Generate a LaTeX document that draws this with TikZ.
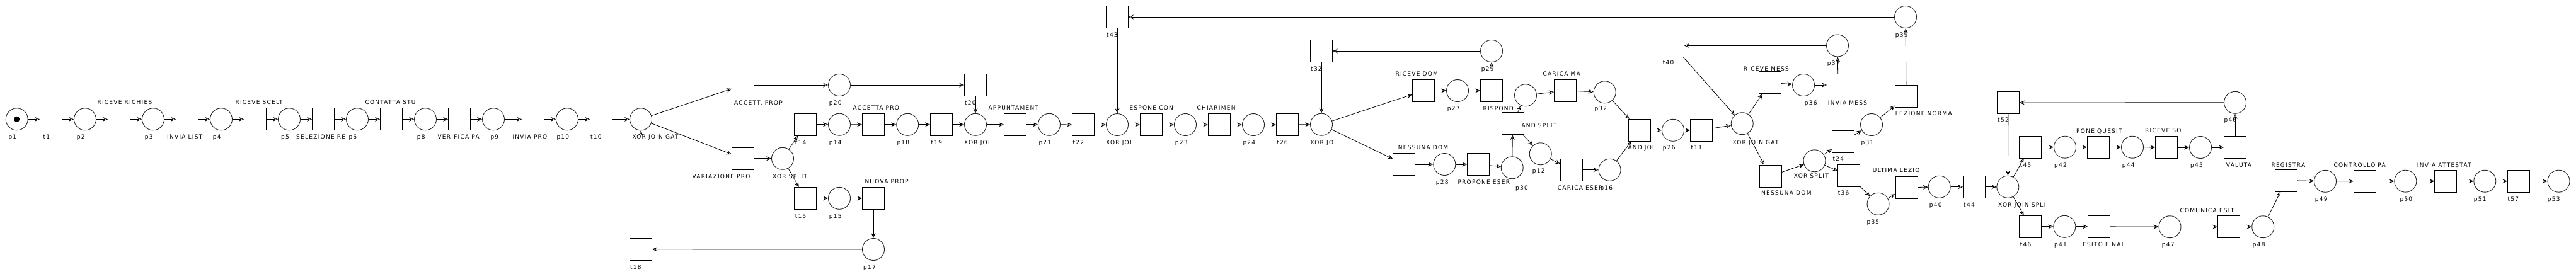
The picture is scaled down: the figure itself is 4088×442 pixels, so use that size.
\documentclass[tikz,border=0pt]{standalone}
\usepackage{fontspec}
\usetikzlibrary{arrows.meta}
\newfontfamily\lbfont{DejaVu Sans}[LetterSpace=14]
\tikzset{
  pl/.style={circle, draw=black!85, minimum size=35pt, inner sep=0pt, line width=0.9pt},
  tr/.style={rectangle, draw=black, minimum size=35pt, inner sep=0pt, line width=0.9pt},
  lb/.style={anchor=base west, inner sep=0pt, font={\lbfont\fontsize{9pt}{10pt}\selectfont}},
  arr/.style={line width=0.8pt, -{Stealth[open, length=8pt, width=7pt, inset=3pt]}},
  tok/.style={circle, fill=black, minimum size=9pt, inner sep=0pt}
}
\newcommand\mkplace[6]{\node[pl] (#1) at (#2,#3) {}; \node[lb] (L#1) at (#5,#6) {#4};}
\newcommand\mktrans[6]{\node[tr] (#1) at (#2,#3) {}; \node[lb] (L#1) at (#5,#6) {#4};}
\begin{document}
\begin{tikzpicture}[x=1pt,y=-1pt]
\fill[white] (0,0) rectangle (4088,442);
\useasboundingbox (0,0) rectangle (4088,442);
% row 1
\mkplace{p1}{26.7}{189.3}{p1}{13.3}{220.6}
\node[tok] (tok1) at (p1.center) {};
\mktrans{t1}{81}{189.3}{t1}{68.3}{220.6}
\mkplace{p2}{135}{189.3}{p2}{121.7}{220.6}
\mktrans{t2}{189}{189.3}{RICEVE RICHIES}{154.3}{165.9}
\mkplace{p3}{243}{189.3}{p3}{229.7}{220.6}
\mktrans{t3}{297}{189.3}{INVIA LIST}{265}{220.6}
\mkplace{p4}{351}{189.3}{p4}{337.7}{220.6}
\mktrans{t4}{405}{189.3}{RICEVE SCELT}{373.3}{165.9}
\mkplace{p5}{459}{189.3}{p5}{446}{220.6}
\mktrans{t5}{513}{189.3}{SELEZIONE RE}{470}{220.6}
\mkplace{p6}{567}{189.3}{p6}{553.3}{220.6}
\mktrans{t6}{621}{189.3}{CONTATTA STU}{579.3}{165.9}
\mkplace{p8}{675}{189.3}{p8}{661.7}{220.6}
\mktrans{t7}{729}{189.3}{VERIFICA PA}{694.3}{220.6}
\mkplace{p9}{783}{189.3}{p9}{778.3}{220.6}
\mktrans{t8}{846}{189.3}{INVIA PRO}{813.3}{220.6}
\mkplace{p10}{900}{189.3}{p10}{883.3}{220.6}
\mktrans{t10}{954}{189.3}{t10}{937}{220.6}
\mkplace{xj1}{1017}{189.3}{XOR JOIN GAT}{1003.3}{220.6}
\mktrans{t18}{1017}{395.8}{t18}{1000}{427.1}
% first split
\mktrans{accP}{1179}{135}{ACCETT. PROP}{1165}{166.3}
\mkplace{p20}{1332}{135}{p20}{1315.7}{166.3}
\mktrans{varP}{1179}{251.8}{VARIAZIONE PRO}{1098.3}{283.1}
\mkplace{xs1}{1242}{251.8}{XOR SPLIT}{1226}{283.1}
\mktrans{t14}{1278}{197.7}{t14}{1261.7}{229}
\mkplace{p14}{1332}{197.7}{p14}{1315.7}{229}
\mktrans{t15}{1278}{314.8}{t15}{1261.7}{346.1}
\mkplace{p15}{1332}{314.8}{p15}{1315.7}{346.1}
\mktrans{accettaP}{1386}{197.8}{ACCETTA PRO}{1353.3}{174.4}
\mkplace{p18}{1440.2}{197.8}{p18}{1423.3}{229}
\mktrans{t19}{1494}{197.8}{t19}{1477.3}{229}
\mkplace{xjoi1}{1548}{197.8}{XOR JOI}{1530}{229}
\mktrans{t20}{1548}{135}{t20}{1531}{166.3}
\mktrans{appunt}{1611}{197.8}{APPUNTAMENT}{1568.3}{174.4}
\mkplace{p21}{1665}{197.8}{p21}{1648.3}{229}
\mktrans{t22}{1719}{198}{t22}{1702.3}{229.3}
\mktrans{nuova}{1386}{314.8}{NUOVA PROP}{1372.3}{291.4}
\mkplace{p17}{1386}{396}{p17}{1370}{427.3}
% middle
\mktrans{t43}{1773}{27}{t43}{1756}{58.3}
\mkplace{xjoi2}{1773}{198}{XOR JOI}{1755}{229.3}
\mktrans{espone}{1827}{198}{ESPONE CON}{1792.3}{174.6}
\mkplace{p23}{1881}{198}{p23}{1864.7}{229.3}
\mktrans{chiar}{1935}{198}{CHIARIMEN}{1899.3}{174.6}
\mkplace{p24}{1989}{198}{p24}{1972.3}{229.3}
\mktrans{t26}{2043}{198}{t26}{2026}{229.3}
\mkplace{xjoi3}{2097}{197.7}{XOR JOI}{2079.3}{229.3}
\mktrans{t32}{2097}{81}{t32}{2080}{112.3}
\mkplace{p29}{2367}{81}{p29}{2350.7}{112.3}
\mktrans{riceveDom}{2259}{144}{RICEVE DOM}{2214.3}{120.6}
\mkplace{p27}{2313}{144}{p27}{2296.7}{175.3}
\mktrans{rispond}{2367}{144}{RISPOND}{2353.3}{175.3}
\mktrans{nessuna1}{2228.3}{261}{NESSUNA DOM}{2218.7}{237.6}
\mkplace{p28}{2292.3}{261}{p28}{2278.7}{292.3}
\mktrans{propone}{2346.3}{261}{PROPONE ESER}{2313.3}{292.3}
\mkplace{p30}{2399.7}{266.3}{p30}{2405}{301}
\mktrans{andsplit}{2400.5}{196.3}{AND SPLIT}{2414.3}{202.3}
\node[pl] (pA) at (2421,151.3) {};
\mktrans{caricaMa}{2484}{144}{CARICA MA}{2448.3}{120.6}
\mkplace{p32}{2546.7}{146.3}{p32}{2530.3}{175.3}
\mkplace{p12}{2444.7}{244.3}{p12}{2431.7}{274}
\mktrans{caricaEs}{2494}{269.8}{CARICA ESER}{2471.7}{301}
\mkplace{p16}{2554.5}{269.8}{p16}{2539.3}{301}
\mktrans{andjoin}{2602}{206.8}{AND JOI}{2583.3}{237.6}
\mkplace{p26}{2655}{206.8}{p26}{2638.7}{237.6}
\mktrans{t11}{2700}{206.8}{t11}{2683.3}{237.6}
\mktrans{t40}{2655}{72.5}{t40}{2638.7}{102.6}
\mkplace{p37}{2916}{72.5}{p37}{2899.7}{103.3}
\mkplace{p39}{3024}{27}{p39}{3007.7}{58.3}
\mkplace{xjg2}{2764.7}{196.2}{XOR JOIN GAT}{2749.3}{229}
\mktrans{riceveMes}{2809}{131.3}{RICEVE MESS}{2766.7}{112}
\mkplace{p36}{2862}{135}{p36}{2863.7}{166.6}
\mktrans{inviaMes}{2917}{135}{INVIA MESS}{2900.7}{166.6}
\mktrans{nessuna2}{2809.5}{279.8}{NESSUNA DOM}{2795}{309.3}
\mkplace{xs2}{2879.5}{255.3}{XOR SPLIT}{2846.7}{282.6}
\mktrans{t24}{2925}{225}{t24}{2908.3}{255.6}
\mkplace{p31}{2970}{198}{p31}{2953.3}{229.3}
\mktrans{lezNorm}{3025}{153}{LEZIONE NORMA}{3007.7}{183.6}
\mktrans{t36}{2934}{279}{t36}{2916.7}{309.3}
\mkplace{p35}{2980.5}{323.8}{p35}{2962.3}{355}
\mktrans{ultima}{3025.5}{297.8}{ULTIMA LEZIO}{2971.7}{273.6}
% end part
\mkplace{p40}{3077.7}{296.8}{p40}{3061.7}{328.3}
\mktrans{t44}{3133}{296.8}{t44}{3116}{328.3}
\mkplace{xjs}{3186.3}{296.8}{XOR JOIN SPLI}{3171}{328.3}
\mktrans{t52}{3187}{163}{t52}{3170}{193}
\mkplace{p46}{3547}{162.8}{p46}{3529.3}{193.3}
\mktrans{t45}{3221.7}{233.7}{t45}{3205.7}{265}
\mkplace{p42}{3277}{233.7}{p42}{3260}{265}
\mktrans{pone}{3330}{233.7}{PONE QUESIT}{3295}{211}
\mkplace{p44}{3384}{233.7}{p44}{3367.7}{265}
\mktrans{riceveSo}{3438}{234}{RICEVE SO}{3404}{210.6}
\mkplace{p45}{3492}{234}{p45}{3476}{265}
\mktrans{valuta}{3547}{234}{VALUTA}{3532.7}{265}
\mktrans{t46}{3221.7}{359.8}{t46}{3205.7}{391}
\mkplace{p41}{3276.3}{359.8}{p41}{3260}{391}
\mktrans{esito}{3331}{359.8}{ESITO FINAL}{3305}{391}
\mkplace{p47}{3443.5}{360.2}{p47}{3430.7}{391.3}
\mktrans{comunica}{3537}{360.2}{COMUNICA ESIT}{3459.3}{337}
\mkplace{p48}{3591.2}{360.2}{p48}{3574.7}{391.3}
\mktrans{registra}{3628}{286.5}{REGISTRA}{3604.3}{265}
\mkplace{p49}{3690}{287.8}{p49}{3673.7}{319}
\mktrans{controllo}{3753}{287.7}{CONTROLLO PA}{3703.3}{265}
\mkplace{p50}{3817.3}{287.7}{p50}{3808.3}{319.3}
\mktrans{inviaAtt}{3881.3}{287.7}{INVIA ATTESTAT}{3835.7}{265}
\mkplace{p51}{3943.3}{287.7}{p51}{3925.7}{319.3}
\mktrans{t57}{3997}{287.7}{t57}{3979.3}{319.3}
\mkplace{p53}{4060.5}{287.7}{p53}{4042.7}{319.3}
% arcs
\foreach \a/\b in {p1/t1,t1/p2,p2/t2,t2/p3,p3/t3,t3/p4,p4/t4,t4/p5,p5/t5,t5/p6,p6/t6,t6/p8,p8/t7,t7/p9,p9/t8,t8/p10,p10/t10,t10/xj1,
  xj1/accP,xj1/varP,accP/p20,p20/t20,varP/xs1,xs1/t14,xs1/t15,t14/p14,p14/accettaP,accettaP/p18,p18/t19,t19/xjoi1,t20/xjoi1,
  xjoi1/appunt,appunt/p21,p21/t22,t22/xjoi2,t43/xjoi2,xjoi2/espone,espone/p23,p23/chiar,chiar/p24,p24/t26,t26/xjoi3,t32/xjoi3,p29/t32,
  t15/p15,p15/nuova,nuova/p17,p17/t18,t18/xj1,
  xjoi3/riceveDom,xjoi3/nessuna1,riceveDom/p27,p27/rispond,rispond/p29,nessuna1/p28,p28/propone,propone/p30,p30/andsplit,
  andsplit/pA,andsplit/p12,pA/caricaMa,caricaMa/p32,p32/andjoin,p12/caricaEs,caricaEs/p16,p16/andjoin,andjoin/p26,p26/t11,t11/xjg2,
  t40/xjg2,p37/t40,xjg2/riceveMes,xjg2/nessuna2,riceveMes/p36,p36/inviaMes,inviaMes/p37,nessuna2/xs2,xs2/t24,xs2/t36,
  t24/p31,p31/lezNorm,lezNorm/p39,p39/t43,t36/p35,p35/ultima,ultima/p40,p40/t44,t44/xjs,t52/xjs,p46/t52,
  xjs/t45,xjs/t46,t45/p42,p42/pone,pone/p44,p44/riceveSo,riceveSo/p45,p45/valuta,valuta/p46,
  t46/p41,p41/esito,esito/p47,p47/comunica,comunica/p48,p48/registra,registra/p49,p49/controllo,controllo/p50,p50/inviaAtt,inviaAtt/p51,p51/t57,t57/p53}
  \draw[arr] (\a) -- (\b);
\end{tikzpicture}
\end{document}
